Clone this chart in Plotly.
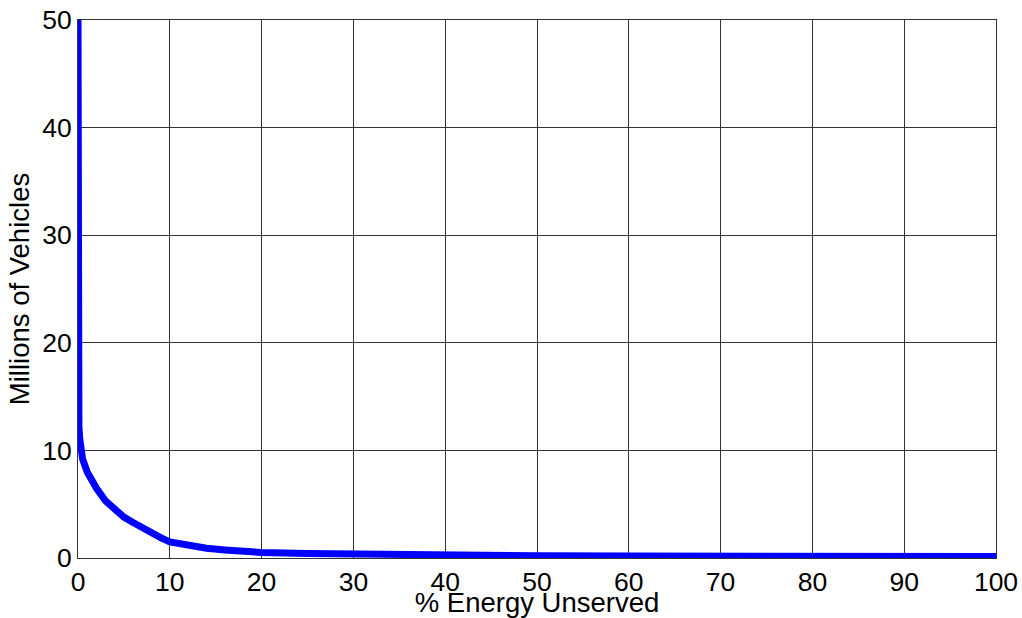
import plotly.graph_objects as go

pct_unserved = [0, 0, 0.02, 0.05, 0.1, 0.2, 0.3, 0.5, 1, 1.5, 2, 3, 4, 5, 6, 7, 8, 9, 10,
                12, 14, 16, 18, 20, 25, 30, 35, 40, 45, 50, 60, 70, 80, 90, 100]
vehicles_millions = [50, 16, 14.5, 13.3, 12.2, 11.0, 10.0, 9.2, 8.0, 7.2, 6.5, 5.3, 4.5, 3.8, 3.3,
                     2.8, 2.3, 1.9, 1.5, 1.15, 0.9, 0.75, 0.62, 0.52, 0.42, 0.36, 0.3, 0.26,
                     0.22, 0.2, 0.18, 0.17, 0.16, 0.15, 0.15]

x_ticks = [0, 10, 20, 30, 40, 50, 60, 70, 80, 90, 100]
y_ticks = [0, 10, 20, 30, 40, 50]

fig = go.Figure()
fig.add_trace(go.Scatter(
    x=pct_unserved, y=vehicles_millions, mode="lines",
    line=dict(color="#0000ff", width=7), showlegend=False,
))

grid = "#333333"
fig.update_layout(
    width=1022, height=618,
    margin=dict(l=78, r=26, t=20, b=60, autoexpand=False),
    paper_bgcolor="white", plot_bgcolor="white",
    font=dict(family="Liberation Sans, Arial, sans-serif", size=26, color="black"),
    xaxis=dict(
        range=[0, 100], tickvals=x_ticks, showgrid=True, gridcolor=grid, gridwidth=1,
        zeroline=False, showline=True, linecolor=grid, linewidth=1, mirror=True,
        automargin=False,
        ticks="", title=dict(text="% Energy Unserved", standoff=0, font=dict(size=27.5)),
        tickfont=dict(size=26.5),
    ),
    yaxis=dict(
        range=[0, 50], tickvals=y_ticks, showgrid=True, gridcolor=grid, gridwidth=1,
        zeroline=False, showline=True, linecolor=grid, linewidth=1, mirror=True,
        automargin=False,
        ticks="", title=dict(text="Millions of Vehicles", standoff=4, font=dict(size=27.5)),
        tickfont=dict(size=26.5),
    ),
)

fig.write_html("out.html", config={"displayModeBar": False},
               post_script="document.body.style.margin='0';")
